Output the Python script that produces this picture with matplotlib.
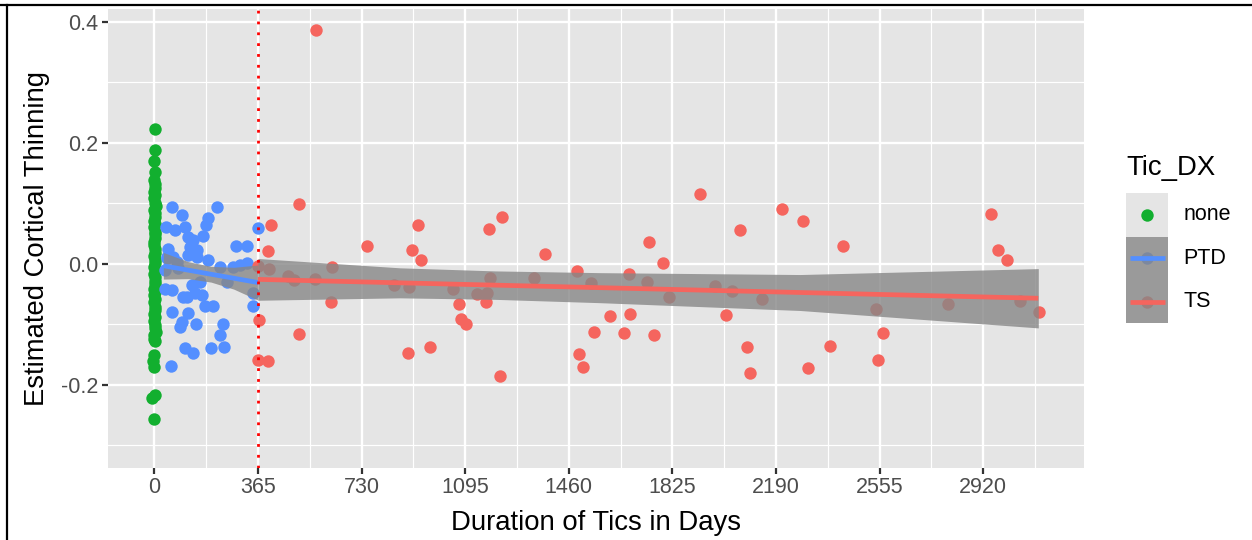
# scatter of estimated cortical thinning against tic duration
# three Tic_DX groups with lm smooths (ggplot-like look)

import numpy as np
import matplotlib
matplotlib.use('Agg')
import matplotlib.pyplot as plt
from matplotlib.lines import Line2D
from matplotlib.patches import Rectangle

plt.rcParams['font.family'] = ['Liberation Sans', 'DejaVu Sans']
plt.rcParams['axes.unicode_minus'] = False

# ---- data ----
groups = ['none', 'PTD', 'TS']
colours = ['#12AF2F', '#548FFF', '#F5655E']

none_days = [2, 3, 0, 2, -2, 1, 4, -1, 3, 0, 2, 5, -2, 1, 3, 0, 4, -1, 2, 1,
             3, -2, 0, 4, 2, -1, 1, 3, 0, 5, -2, 2, 1, 4, -1, 3, 0, 2, -2, 1,
             4, 0, 3, -1, 2, 1, 5, 0, -2, 3, -2, -3, -2, -7, 4, 0]
none_thin = [0.222, 0.188, 0.169, 0.152, 0.138, 0.131, 0.126, 0.119, 0.113, 0.108,
             0.101, 0.096, 0.089, 0.084, 0.078, 0.071, 0.066, 0.060, 0.053, 0.049,
             0.042, 0.036, 0.031, 0.024, 0.018, 0.013, 0.006, 0.001, -0.006, -0.010,
             -0.017, -0.022, -0.029, -0.034, -0.041, -0.046, -0.052, -0.059, -0.064,
             -0.071, -0.076, -0.083, -0.088, -0.094, -0.101, -0.106, -0.112, -0.118,
             -0.124, -0.127, -0.151, -0.160, -0.170, -0.222, -0.217, -0.256]

ptd_days = [61, 97, 222, 190, 182, 40, 73, 108, 120, 137, 173, 49, 126, 149, 288,
            326, 366, 149, 190, 44, 67, 120, 231, 255, 278, 302, 326, 349, 349, 38,
            61, 132, 161, 102, 114, 143, 167, 179, 208, 61, 120, 97, 91, 147, 243,
            231, 108, 137, 200, 246, 59, 38, 83, 79, 44]
ptd_thin = [0.093, 0.080, 0.093, 0.075, 0.064, 0.061, 0.056, 0.061, 0.045, 0.039,
            0.046, 0.025, 0.028, 0.023, 0.030, 0.030, 0.059, 0.012, 0.006, 0.009,
            0.012, 0.014, -0.005, -0.030, -0.005, -0.002, 0.001, -0.048, -0.069, -0.042,
            -0.043, -0.035, -0.030, -0.055, -0.055, -0.049, -0.051, -0.069, -0.069, -0.079,
            -0.082, -0.096, -0.104, -0.099, -0.100, -0.118, -0.140, -0.148, -0.140, -0.137,
            -0.169, -0.010, -0.007, 0.003, 0.012]

ts_days = [366, 370, 366, 402, 410, 400, 405, 511, 510, 472, 493, 567, 569, 627,
           623, 750, 846, 897, 895, 907, 928, 940, 970, 1053, 1073, 1079, 1097, 1136,
           1169, 1173, 1183, 1179, 1226, 1218, 1337, 1377, 1488, 1537, 1496, 1509, 1550,
           1605, 1655, 1672, 1677, 1735, 1742, 1760, 1792, 1813, 1923, 1976, 2015, 2034,
           2063, 2087, 2099, 2142, 2212, 2286, 2303, 2380, 2425, 2541, 2550, 2566, 2797,
           2947, 2973, 3005, 3050, 3118]
ts_thin = [-0.004, -0.093, -0.159, -0.161, 0.064, 0.021, -0.009, 0.099, -0.116, -0.020,
           -0.027, -0.025, 0.386, -0.006, -0.063, 0.030, -0.035, -0.039, -0.148, 0.023,
           0.064, 0.006, -0.137, -0.041, -0.067, -0.091, -0.100, -0.050, -0.063, -0.048,
           -0.024, 0.057, 0.077, -0.185, -0.024, 0.016, -0.012, -0.031, -0.149, -0.170,
           -0.113, -0.087, -0.114, -0.017, -0.083, -0.030, 0.036, -0.117, 0.002, -0.055,
           0.115, -0.036, -0.085, -0.045, 0.055, -0.137, -0.181, -0.058, 0.090, 0.071,
           -0.172, -0.136, 0.030, -0.075, -0.159, -0.114, -0.066, 0.082, 0.023, 0.006,
           -0.061, -0.079]

# lm smooth with 95% band
ptd_fit_days = [32, 120, 200, 280, 365]
ptd_fit = [-0.0033, -0.0106, -0.0173, -0.0239, -0.0310]
ptd_lo = [-0.0253, -0.0246, -0.0303, -0.0419, -0.0600]
ptd_hi = [0.0187, 0.0034, -0.0043, -0.0059, -0.0020]

ts_fit_days = [365, 865, 1200, 1570, 2275, 3114]
ts_fit = [-0.0258, -0.0315, -0.0353, -0.0395, -0.0475, -0.0570]
ts_lo = [-0.0603, -0.0563, -0.0588, -0.0643, -0.0772, -0.1060]
ts_hi = [0.0087, -0.0067, -0.0118, -0.0147, -0.0178, -0.0080]

xticks = [0, 365, 730, 1095, 1460, 1825, 2190, 2555, 2920]
yticks = [-0.2, 0.0, 0.2, 0.4]
ylabels = ['-0.2', '0.0', '0.2', '0.4']
cutoff = 365

# ---- figure ----
W, H = 1252, 540
fig = plt.figure(figsize=(W / 100, H / 100), dpi=100)
ax = fig.add_axes([108 / W, 1 - 467.7 / H, (1084 - 108) / W, (467.7 - 9) / H])
ax.set_facecolor('#E5E5E5')
for s in ax.spines.values():
    s.set_visible(False)

ax.set_xlim(-163, 3275)
ax.set_ylim(-0.337, 0.421)
ax.set_xticks(xticks)
ax.set_xticks([t + 182.5 for t in xticks], minor=True)
ax.set_yticks(yticks)
ax.set_yticklabels(ylabels)
ax.set_yticks([-0.3, -0.1, 0.1, 0.3], minor=True)
ax.grid(which='major', color='white', lw=1.7)
ax.grid(which='minor', color='white', lw=0.85)
ax.set_axisbelow(True)
ax.tick_params(which='major', length=4, width=1.6, color='#333333',
               labelcolor='#4D4D4D', labelsize=15.5, pad=3)
ax.tick_params(which='minor', length=0)

ms = 80
ax.scatter(none_days, none_thin, s=ms, color=colours[0], lw=0, zorder=2)
ax.scatter(ptd_days, ptd_thin, s=ms, color=colours[1], lw=0, zorder=2)
ax.scatter(ts_days, ts_thin, s=ms, color=colours[2], lw=0, zorder=2)

band = '#878787'
ax.fill_between(ptd_fit_days, ptd_lo, ptd_hi, color=band, alpha=0.8, lw=0, zorder=3)
ax.fill_between(ts_fit_days, ts_lo, ts_hi, color=band, alpha=0.8, lw=0, zorder=3)
ax.plot(ptd_fit_days, ptd_fit, color=colours[1], lw=3.4, zorder=4, solid_capstyle='butt')
ax.plot(ts_fit_days, ts_fit, color=colours[2], lw=3.4, zorder=4, solid_capstyle='butt')

ax.axvline(cutoff, color='red', lw=2, ls=(0, (1, 2.9)), zorder=5)

ax.set_xlabel('Duration of Tics in Days', fontsize=19.8, color='black', labelpad=8)
ax.set_ylabel('Estimated Cortical Thinning', fontsize=19.8, color='black', labelpad=8)

# ---- legend ----
fig.text(1126.7 / W, 1 - 175 / H, 'Tic_DX', fontsize=19.8, va='baseline', ha='left')
lax = fig.add_axes([1126 / W, 1 - 323.3 / H, 42.3 / W, 130 / H])
lax.set_xlim(0, 1)
lax.set_ylim(0, 3)
lax.axis('off')
for i, (g, c) in enumerate(zip(groups, colours)):
    y0 = 2 - i
    lax.add_patch(Rectangle((0, y0), 1, 1, facecolor='#E5E5E5', lw=0, zorder=1))
    lax.scatter([0.5], [y0 + 0.5], s=ms, color=c, lw=0, zorder=2)
    if g != 'none':
        lax.add_patch(Rectangle((0, y0), 1, 1, facecolor=band, alpha=0.8, lw=0, zorder=3))
        lax.plot([0.1, 0.92], [y0 + 0.5, y0 + 0.5], color=c, lw=3.4, zorder=4,
                 solid_capstyle='butt')
    fig.text(1183.3 / W, 1 - (323.3 - (y0 + 0.5) * 130 / 3) / H, g, fontsize=15.5,
             va='center', ha='left')

# screenshot border
fig.add_artist(Line2D([0, 1], [1 - 5 / H, 1 - 5 / H], color='black', lw=1.6))
fig.add_artist(Line2D([6.5 / W, 6.5 / W], [0, 1 - 5 / H], color='black', lw=1.6))

fig.savefig('out.png', dpi=100)
